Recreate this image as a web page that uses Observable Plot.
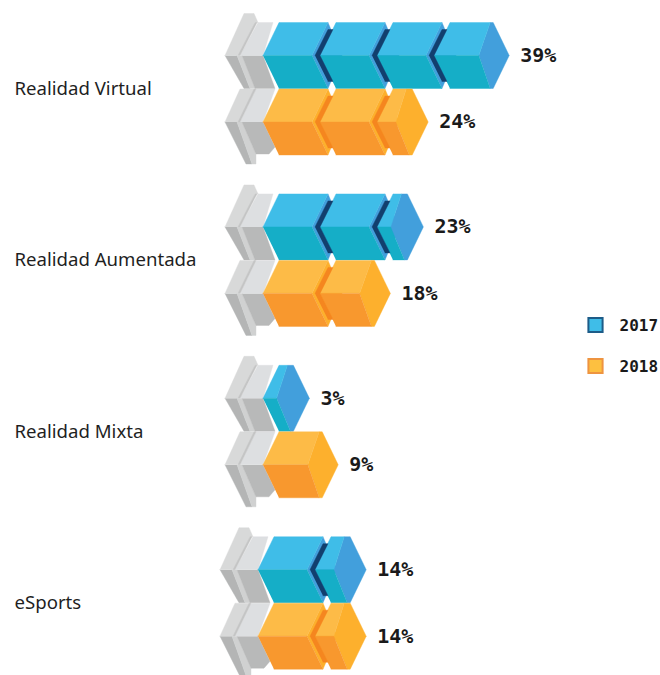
<!DOCTYPE html>
<html lang="es">
<head>
<meta charset="utf-8">
<script src="https://cdn.jsdelivr.net/npm/d3@7"></script>
<script src="https://cdn.jsdelivr.net/npm/@observablehq/plot@0.6"></script>
<style>
  html, body { margin: 0; background: #fff; }
  svg { display: block; }
</style>
</head>
<body>
<script>
// Share of respondents per technology and year
const categories = ["Realidad Virtual", "Realidad Aumentada", "Realidad Mixta", "eSports"];
const years = ["2017", "2018"];
const values2017 = [39, 23, 3, 14];
const values2018 = [24, 18, 9, 14];
const seriesValues = [values2017, values2018];

// Palette of each year's blocks
const palettes = [
  {top: "#3fbde8", front: "#15aec7", side: "#429fdc", shadow: "#123f6e", swatch: "#3fbde8", edge: "#1d5c88"},
  {top: "#fdbb47", front: "#f8982e", side: "#fdb02d", shadow: "#f5861f", swatch: "#fdc040", edge: "#ee9440"}
];
const greys = {lightA: "#d8d9d9", groove: "#c4c5c5", lightB: "#dddfe1", darkA: "#b4b5b5", stripe: "#d0d1d1", darkB: "#b8b9b9"};

// Scale calibration: one block (10 %) advances 57 px, one row 66.5 px
const width = 660, height = 675;
const pxPerPct = 5.7, pxPerRow = 66.5;
const xOrigin = 262.5, yOrigin = 55;
const groupStep = 171.4 / pxPerRow;
const groupShift = [0, 0, 0, -5];   // px, the last group sits slightly left
const skew = 16, halfH = 33;        // block shape in px

const u = px => px / pxPerPct;
const r = px => px / pxPerRow;

const points = [];
let faceId = 0;
function face(fill, x0, y0, verts) {
  const id = faceId++;
  for (const [dx, dy] of verts) points.push({id, fill, x: x0 + u(dx), y: y0 + r(dy)});
}

// The grey bracket every bar starts from
function bracket(x0, y0, isUpper) {
  if (isUpper) {
    face(greys.darkA, x0, y0, [[-38, 0], [-19, 33], [-13, 33], [-26, 0]]);
    face(greys.stripe, x0, y0, [[-26, 0], [-13, 33], [-8, 33], [-21, 0]]);
    face(greys.darkB, x0, y0, [[-21, 0], [-8, 33], [12, 33], [0, 0]]);
    face(greys.lightA, x0, y0, [[-38, 0], [-19, -42], [-9, -42], [-5, -33], [-8, -33], [-24, 0]]);
    face(greys.lightB, x0, y0, [[-23, 0], [-5, -33], [10, -33], [0, 0]]);
    face(greys.groove, x0, y0, [[-25, 0], [-8, -33], [-6, -33], [-23, 0]]);
  } else {
    face(greys.darkA, x0, y0, [[-38, 0], [-17, 42], [-11, 42], [-26, 0]]);
    face(greys.stripe, x0, y0, [[-26, 0], [-11, 42], [-7, 42], [-7, 32], [-21, 0]]);
    face(greys.darkB, x0, y0, [[-21, 0], [-7, 32], [6, 32], [12, 25], [0, 0]]);
    face(greys.lightA, x0, y0, [[-38, 0], [-23, -33], [-8, -33], [-24, 0]]);
    face(greys.lightB, x0, y0, [[-23, 0], [-7, -33], [12, -33], [0, 0]]);
    face(greys.groove, x0, y0, [[-25, 0], [-9, -33], [-7, -33], [-23, 0]]);
  }
}

// Block outline for a share of up to 10 %: partial blocks narrow with the share
function blockShape(pct) {
  if (pct >= 10) return {a: 49, topInner: 65, botInner: 65, corner: 65, tip: 79};
  const corner = 4.8 * pct + skew;
  const inset = pct >= 8 ? 3 : 6;
  return {a: 5.2 * pct - 2, topInner: corner - inset, botInner: corner - 3, corner, tip: corner + 16};
}

function block(pal, x0, y0, pct) {
  const s = blockShape(pct);
  face(pal.side, x0, y0, [[s.a, 0], [s.topInner, -halfH], [s.corner, -halfH], [s.tip, 0], [s.corner, halfH], [s.botInner, halfH]]);
  face(pal.top, x0, y0, [[0, 0], [skew, -halfH], [s.topInner, -halfH], [s.a, 0]]);
  face(pal.front, x0, y0, [[0, 0], [s.a, 0], [s.botInner, halfH], [skew, halfH]]);
}

// Chevron-shaped shadow between two consecutive blocks
function shadow(pal, x0, y0) {
  face(pal.shadow, x0, y0, [[-5, 0], [8, -26], [13, -26], [0, 0], [13, 26], [8, 26]]);
}

const ends = [];
categories.forEach((category, g) => {
  years.forEach((year, s) => {
    const value = seriesValues[s][g];
    const pal = palettes[s];
    const x0 = u(groupShift[g]);
    const y0 = g * groupStep + s;
    bracket(x0, y0, s === 0);
    let rest = value, k = 0, last = 0;
    while (rest > 0) {
      const pct = Math.min(rest, 10);
      const xk = x0 + k * 10;
      block(pal, xk, y0, pct);
      if (k > 0) shadow(pal, xk, y0);
      last = xk + u(blockShape(pct).tip);
      rest -= pct;
      k++;
    }
    ends.push({x: last, y: y0, label: value + "%"});
  });
});

const rowLabels = categories.map((category, g) => ({category, y: g * groupStep + 0.5}));

const techFont = "'DejaVu Sans Mono', monospace";
const legendMarks = years.flatMap((year, i) => [
  Plot.dot([year], {
    frameAnchor: "top-left", dx: 595, dy: 324.5 + i * 41,
    symbol: "square", r: 8, fill: palettes[i].swatch,
    stroke: palettes[i].edge, strokeWidth: 2
  }),
  Plot.text([year], {
    frameAnchor: "top-left", dx: 619, dy: 325 + i * 41,
    text: d => d, textAnchor: "start", lineAnchor: "middle",
    fontFamily: techFont, fontWeight: 700, fontSize: 16, fill: "#1a1a1a"
  })
]);

const chart = Plot.plot({
  width, height,
  margin: 0,
  x: {domain: [-xOrigin / pxPerPct, (width - xOrigin) / pxPerPct], range: [0, width], axis: null},
  y: {domain: [-yOrigin / pxPerRow, (height - yOrigin) / pxPerRow], range: [0, height], axis: null},
  color: {type: "identity"},
  marks: [
    Plot.line(points, {x: "x", y: "y", z: "id", fill: "fill", stroke: "fill", strokeWidth: 0.4}),
    Plot.text(ends, {
      x: "x", y: "y", text: "label", dx: 11, textAnchor: "start",
      fontFamily: techFont, fontWeight: 700, fontSize: 20, fill: "#1a1a1a"
    }),
    Plot.text(rowLabels, {
      y: "y", text: "category", frameAnchor: "left", dx: 14, textAnchor: "start",
      fontFamily: "'Noto Sans', sans-serif", fontSize: 18.6, fill: "#1f1f1f"
    }),
    ...legendMarks
  ]
});
document.body.appendChild(chart);
</script>
</body>
</html>
